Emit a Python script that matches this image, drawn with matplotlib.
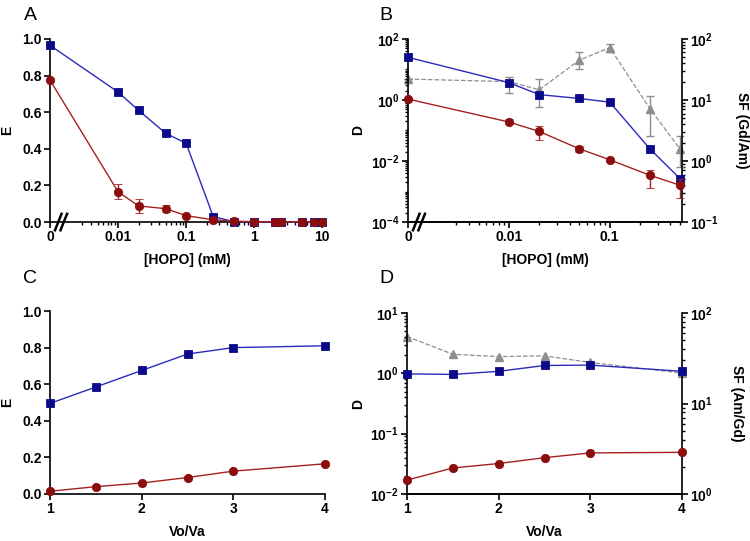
import numpy as np
import matplotlib
matplotlib.use("Agg")
import matplotlib.pyplot as plt
from matplotlib.ticker import FixedLocator, FuncFormatter, LogLocator, NullFormatter

plt.rcParams["font.family"] = ["Liberation Sans", "DejaVu Sans"]
plt.rcParams["font.weight"] = "bold"
plt.rcParams["mathtext.fontset"] = "custom"
plt.rcParams["mathtext.rm"] = "Liberation Sans:bold"
plt.rcParams["mathtext.bf"] = "Liberation Sans:bold"
plt.rcParams["mathtext.default"] = "rm"

BLUE = "#0b0b8a"
BLUE_LINE = "#2b2bbb"
RED = "#8b0d0d"
RED_LINE = "#a52020"
GRAY = "#8e8e8e"

# ---- 数据 ----
# A: E vs [HOPO]（0 画在 0.001 位置）
hopo_a = [0, 0.01, 0.02, 0.05, 0.1, 0.25, 0.5, 1, 2, 2.5, 5, 7.5, 10]
e_gd_a = [0.965, 0.71, 0.61, 0.485, 0.43, 0.03, 0.002, 0.001, 0.001, 0.001, 0.001, 0.001, 0.001]
e_am_a = [0.775, 0.165, 0.088, 0.073, 0.035, 0.012, 0.005, 0.002, 0.002, 0.002, 0.002, 0.002, 0.002]
e_am_a_err = [0, 0.04, 0.04, 0.018, 0, 0, 0, 0, 0, 0, 0, 0, 0]

# B: D 和 SF(Gd/Am) vs [HOPO]
hopo_b = [0, 0.01, 0.02, 0.05, 0.1, 0.25, 0.5]
d_gd_b = [25, 3.7, 1.5, 1.12, 0.85, 0.025, 0.0026]
d_am_b = [1.07, 0.19, 0.093, 0.025, 0.011, 0.0034, 0.0016]
d_am_b_lo = [1.07, 0.16, 0.047, 0.02, 0.011, 0.0013, 0.0006]
d_am_b_hi = [1.07, 0.23, 0.14, 0.031, 0.011, 0.0052, 0.0025]
sf_b = [22, 20, 14.7, 45, 72, 7.2, 1.55]
sf_b_lo = [22, 13, 7.7, 32, 61, 2.6, 0.8]
sf_b_hi = [22, 24, 22, 60, 84, 11.5, 2.6]

# C: E vs Vo/Va
ratio = [1, 1.5, 2, 2.5, 3, 4]
e_gd_c = [0.495, 0.585, 0.675, 0.765, 0.80, 0.81]
e_am_c = [0.015, 0.04, 0.06, 0.09, 0.125, 0.165]

# D: D 和 SF(Am/Gd) vs Vo/Va
d_gd_d = [0.98, 0.96, 1.08, 1.35, 1.37, 1.08]
d_am_d = [0.017, 0.027, 0.032, 0.040, 0.048, 0.049]
sf_d = [55, 35, 33, 33.6, 28.4, 21.7]

ZERO_POS = 0.001


def pos(xs):
    return [ZERO_POS if x == 0 else x for x in xs]


def pow_fmt(v, _):
    if v <= 0:
        return ""
    return r"$10^{%d}$" % int(round(np.log10(v)))


def style_axis(ax, right=False):
    for s in ["top"] + ([] if right else ["right"]):
        ax.spines[s].set_visible(False)
    for s in ax.spines.values():
        s.set_linewidth(1.2)
    ax.tick_params(which="major", length=4, width=1.2, labelsize=10, pad=2)
    ax.tick_params(which="minor", length=2.5, width=1.0)


def add_break(ax, x0):
    # 轴断标记 "//"
    for dx in (0, 0.02):
        ax.plot([x0 + dx - 0.012, x0 + dx + 0.012], [-0.045, 0.045], transform=ax.transAxes,
                color="black", lw=1.8, clip_on=False, zorder=10)


def log_x(ax, xmax, labels):
    ax.set_xscale("log")
    ax.set_xlim(ZERO_POS, xmax)
    ax.xaxis.set_major_locator(FixedLocator(list(labels.keys())))
    ax.xaxis.set_major_formatter(FuncFormatter(lambda v, _: labels.get(v, "")))
    minors = [m * 10.0 ** k for k in range(-3, 1) for m in range(2, 10)]
    minors = [m for m in minors if 0.0025 < m < xmax]
    ax.xaxis.set_minor_locator(FixedLocator(minors))
    ax.xaxis.set_minor_formatter(NullFormatter())


fig = plt.figure(figsize=(7.5, 5.41), dpi=100)
axA = fig.add_axes([0.0667, 0.5896, 0.3667, 0.3384])
axB = fig.add_axes([0.544, 0.5896, 0.3653, 0.3384])
axC = fig.add_axes([0.0667, 0.0869, 0.3667, 0.3382])
axD = fig.add_axes([0.5427, 0.0869, 0.3667, 0.3345])

mk = dict(markersize=6, markeredgewidth=0.6, linewidth=1.0)

# ---- A ----
style_axis(axA)
axA.plot(pos(hopo_a), e_gd_a, "-s", color=BLUE_LINE, mfc=BLUE, mec=BLUE, zorder=3, **mk)
axA.errorbar(pos(hopo_a), e_am_a, yerr=e_am_a_err, fmt="-o", color=RED_LINE, mfc=RED, mec=RED,
             ecolor=RED_LINE, elinewidth=1.0, capsize=3, capthick=1.0, zorder=4, **mk)
log_x(axA, 11, {0.001: "0", 0.01: "0.01", 0.1: "0.1", 1: "1", 10: "10"})
axA.set_ylim(0, 1.0)
axA.set_yticks(np.arange(0, 1.01, 0.2))
axA.yaxis.set_major_formatter(FuncFormatter(lambda v, _: f"{v:.1f}"))
axA.set_ylabel("E", fontsize=10, fontweight="bold", labelpad=6)
axA.set_xlabel("[HOPO] (mM)", fontsize=10, fontweight="bold", labelpad=6)
add_break(axA, 0.03)

# ---- B ----
style_axis(axB, right=True)
axB.spines["right"].set_visible(False)
axB2 = axB.twinx()
style_axis(axB2, right=True)
axB2.spines["left"].set_visible(False)
axB.set_zorder(axB2.get_zorder() + 1)
axB.patch.set_visible(False)

axB.plot(pos(hopo_b), d_gd_b, "-s", color=BLUE_LINE, mfc=BLUE, mec=BLUE, zorder=3, **mk)
d_am_b_err = [np.subtract(d_am_b, d_am_b_lo), np.subtract(d_am_b_hi, d_am_b)]
axB.errorbar(pos(hopo_b), d_am_b, yerr=d_am_b_err, fmt="-o", color=RED_LINE, mfc=RED, mec=RED,
             ecolor=RED_LINE, elinewidth=1.0, capsize=3, capthick=1.0, zorder=4, **mk)
sf_b_err = [np.subtract(sf_b, sf_b_lo), np.subtract(sf_b_hi, sf_b)]
axB2.errorbar(pos(hopo_b), sf_b, yerr=sf_b_err, fmt="--^", color=GRAY, mfc=GRAY, mec=GRAY,
              ecolor=GRAY, elinewidth=1.0, capsize=3, capthick=1.0, markersize=6, linewidth=0.9)
log_x(axB, 0.52, {0.001: "0", 0.01: "0.01", 0.1: "0.1"})
axB2.set_xlim(ZERO_POS, 0.52)

axB.set_yscale("log")
axB.set_ylim(1e-4, 1e2)
axB.yaxis.set_major_locator(FixedLocator([1e-4, 1e-2, 1e0, 1e2]))
axB.yaxis.set_major_formatter(FuncFormatter(pow_fmt))
axB.yaxis.set_minor_locator(LogLocator(base=10, subs=np.arange(1, 10), numticks=50))
axB.yaxis.set_minor_formatter(NullFormatter())
axB.set_ylabel("D", fontsize=10, fontweight="bold", labelpad=4)
axB.set_xlabel("[HOPO] (mM)", fontsize=10, fontweight="bold", labelpad=6)

axB2.set_yscale("log")
axB2.set_ylim(1e-1, 1e2)
axB2.yaxis.set_major_locator(FixedLocator([1e-1, 1e0, 1e1, 1e2]))
axB2.yaxis.set_major_formatter(FuncFormatter(pow_fmt))
axB2.yaxis.set_minor_locator(LogLocator(base=10, subs=np.arange(2, 10), numticks=50))
axB2.yaxis.set_minor_formatter(NullFormatter())
axB2.set_ylabel("SF (Gd/Am)", fontsize=10, fontweight="bold", rotation=270, labelpad=22)
add_break(axB, 0.03)

# ---- C ----
style_axis(axC)
axC.plot(ratio, e_gd_c, "-s", color=BLUE_LINE, mfc=BLUE, mec=BLUE, zorder=3, **mk)
axC.plot(ratio, e_am_c, "-o", color=RED_LINE, mfc=RED, mec=RED, zorder=4, **mk)
axC.set_xlim(1, 4)
axC.set_xticks([1, 2, 3, 4])
axC.set_ylim(0, 1.0)
axC.set_yticks(np.arange(0, 1.01, 0.2))
axC.yaxis.set_major_formatter(FuncFormatter(lambda v, _: f"{v:.1f}"))
axC.set_ylabel("E", fontsize=10, fontweight="bold", labelpad=6)
axC.set_xlabel("Vo/Va", fontsize=10, fontweight="bold", labelpad=6)

# ---- D ----
style_axis(axD, right=True)
axD.spines["right"].set_visible(False)
axD2 = axD.twinx()
style_axis(axD2, right=True)
axD2.spines["left"].set_visible(False)
axD.set_zorder(axD2.get_zorder() + 1)
axD.patch.set_visible(False)

axD.plot(ratio, d_gd_d, "-s", color=BLUE_LINE, mfc=BLUE, mec=BLUE, zorder=3, **mk)
axD.plot(ratio, d_am_d, "-o", color=RED_LINE, mfc=RED, mec=RED, zorder=4, **mk)
axD2.plot(ratio, sf_d, "--^", color=GRAY, mfc=GRAY, mec=GRAY, markersize=6, linewidth=0.9)
axD.set_xlim(1, 4)
axD.set_xticks([1, 2, 3, 4])
axD.set_yscale("log")
axD.set_ylim(1e-2, 1e1)
axD.yaxis.set_major_locator(FixedLocator([1e-2, 1e-1, 1e0, 1e1]))
axD.yaxis.set_major_formatter(FuncFormatter(pow_fmt))
axD.yaxis.set_minor_locator(LogLocator(base=10, subs=np.arange(2, 10), numticks=50))
axD.yaxis.set_minor_formatter(NullFormatter())
axD.set_ylabel("D", fontsize=10, fontweight="bold", labelpad=4)
axD.set_xlabel("Vo/Va", fontsize=10, fontweight="bold", labelpad=6)

axD2.set_yscale("log")
axD2.set_ylim(1e0, 1e2)
axD2.yaxis.set_major_locator(FixedLocator([1e0, 1e1, 1e2]))
axD2.yaxis.set_major_formatter(FuncFormatter(pow_fmt))
axD2.yaxis.set_minor_locator(LogLocator(base=10, subs=np.arange(2, 10), numticks=50))
axD2.yaxis.set_minor_formatter(NullFormatter())
axD2.set_ylabel("SF (Am/Gd)", fontsize=10, fontweight="bold", rotation=270, labelpad=22)

# 数据点可超出轴框
for a in (axA, axB, axB2, axC, axD, axD2):
    for ln in a.lines:
        ln.set_clip_on(False)

# 面板字母
for lbl, x, y in [("A", 0.040, 0.972), ("B", 0.515, 0.972), ("C", 0.040, 0.486), ("D", 0.515, 0.486)]:
    fig.text(x, y, lbl, fontsize=14, fontweight="normal", ha="center", va="center")

fig.savefig("out.png", dpi=100)
